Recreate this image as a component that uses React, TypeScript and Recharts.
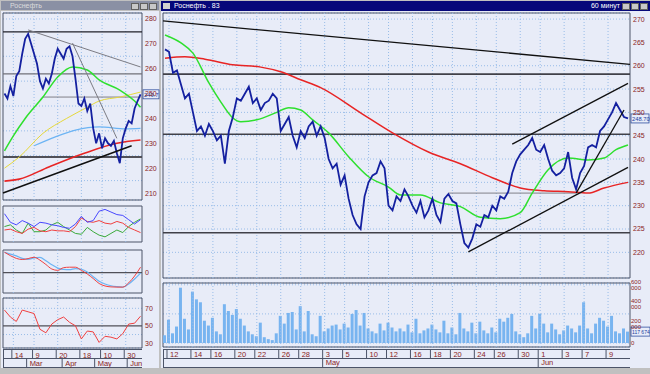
import React from 'react';
import { Bar, CartesianGrid, ComposedChart, Line, ReferenceArea, ReferenceLine, XAxis, YAxis } from 'recharts';

const FONT = '"Liberation Sans", Arial, sans-serif';
const BG = '#e8ecf8';
const FRAME = '#c0c0c0';
const GRID = '#98bce8';
const BORDER = '#4c5468';
const AXIS_TEXT = '#8a2424';
const PRICE_BLUE = '#1420a0';

// ---- main window: 60-minute bars, Apr 12 .. Jun 9 ----
const mainClose = [
    263.5, 263, 258.5, 259, 256, 253, 254, 250, 246, 247,
    245, 247.5, 246, 244, 245, 239, 246, 249, 253, 252.5,
    254, 255.5, 252, 253, 250.5, 252, 252.5, 254, 253, 246,
    247.5, 249, 245, 242.5, 246, 244.5, 247, 248, 245, 247,
    244.5, 240, 238, 239, 234.5, 236.5, 231.5, 228, 226, 225,
    232, 235, 236.5, 237, 239.5, 238, 230, 229, 232, 231,
    233.5, 232, 230, 228.5, 231, 227.5, 229, 231.5, 228, 226.5,
    231.5, 232.5, 231, 230.5, 226, 222, 221, 223, 226, 225.5,
    228, 227.5, 230, 229, 232, 231.5, 233, 237, 239.5, 241,
    242, 243, 244.5, 242, 241.5, 243, 240, 237.5, 236.5, 237,
    238, 241.5, 236, 233.5, 237, 238.5, 242.5, 243, 242.5, 246,
    247, 248.5, 250, 252, 250.5, 249, 248.7,
];
// thousands of shares
const mainVolume = [
    80, 240, 100, 170, 570, 250, 140, 530, 450, 420,
    230, 180, 260, 120, 90, 400, 330, 290, 350, 250,
    180, 120, 90, 70, 210, 60, 40, 30, 100, 280,
    200, 310, 320, 140, 380, 120, 330, 90, 70, 280,
    120, 150, 180, 190, 140, 200, 160, 300, 340, 180,
    310, 150, 120, 100, 200, 130, 210, 160, 120, 150,
    120, 190, 110, 250, 100, 130, 150, 190, 140, 110,
    230, 100, 160, 90, 310, 150, 120, 210, 100, 220,
    130, 100, 160, 110, 250, 220, 260, 300, 120, 90,
    60, 100, 280, 150, 300, 200, 110, 200, 140, 90,
    130, 180, 150, 110, 180, 420, 150, 100, 200, 260,
    230, 170, 280, 120, 100, 150, 117.674,
];
const mainGreenIdx = [0, 4, 7, 11, 14, 17, 19, 23, 28, 31, 34, 37, 41, 46, 51, 56, 59, 64, 69, 74, 79, 84, 89, 92, 96, 101, 106, 110, 113, 116];
const mainGreenVal = [266.6, 264.9, 262.7, 256.3, 252.2, 248.8, 248, 248.4, 250, 251, 250.5, 248.4, 245.6, 240.5, 236.2, 234, 232.3, 232.3, 230.6, 229.8, 227.5, 227.2, 228.5, 232.7, 237.7, 240.2, 239.8, 240.2, 242, 243];
const mainRedIdx = [0, 5, 10, 17, 24, 29, 34, 39, 49, 57, 66, 74, 82, 89, 95, 101, 106, 110, 116];
const mainRedVal = [261.6, 261.9, 261.4, 260.2, 259.7, 258.7, 257, 255.3, 249.9, 245.6, 241.5, 239, 236, 233.8, 233.2, 233, 232.7, 233.8, 235];
const mainTrends = [
    {x1: -0.5, y1: 269.6, x2: 116.5, y2: 260.3},
    {x1: 76, y1: 220.1, x2: 116, y2: 238.2},
    {x1: 87, y1: 243.2, x2: 116, y2: 256.2},
    {x1: 103, y1: 232.7, x2: 115, y2: 250.5},
];
const mainLevels = [258.2, 245.3, 224.2];
const mainThinLevel = {x1: 71, x2: 103, y: 232.7};
const mainPriceTicks = [220, 225, 230, 235, 240, 245, 250, 255, 260, 265, 270];
const mainVolumeTicks = [0, 100, 200, 300, 400, 500, 600];
const mainDayIdx = [1, 7, 12, 18, 23, 29, 34, 40, 45, 51, 56, 62, 67, 72, 78, 83, 89, 94, 100, 105, 111];
const mainDayLabels = ['12', '14', '16', '20', '22', '26', '28', '3', '5', '10', '12', '16', '18', '20', '24', '26', '30', '1', '3', '7', '9'];
const mainMonthIdx = [40, 94];
const mainMonthLabels = ['May', 'Jun'];

// ---- left window: daily bars, Feb .. Jun ----
const leftClose = [
    250, 248, 253, 249, 257, 259, 266, 272, 274, 270,
    266, 262, 255, 252, 256, 254, 258, 264, 268, 266,
    264, 268, 269, 265, 256, 246, 245, 248, 243, 246,
    236, 230, 234, 228, 232, 230, 229, 231, 226, 222,
    232, 236, 239, 238, 244, 247, 249.7,
];
const leftGreenIdx = [0, 3, 7, 13, 18, 23, 28, 32, 39, 44, 46];
const leftGreenVal = [227, 233, 240, 248.6, 256.7, 260.7, 259.5, 255.5, 251.4, 247, 244.5];
const leftYellowIdx = [0, 5, 13, 21, 28, 32, 39, 46];
const leftYellowVal = [220, 224.5, 234, 240, 244.5, 247, 248.6, 250.6];
const leftSkyIdx = [10, 17, 24, 32, 41, 46];
const leftSkyVal = [229, 232.5, 235.3, 236.6, 235.8, 236];
const leftRedIdx = [0, 5, 15, 27, 38, 46];
const leftRedVal = [214.8, 215.6, 220.5, 226, 230, 231.3];
const leftBlackTrend = {x1: -0.5, y1: 210, x2: 43, y2: 229};
const leftGrayTrends = [
    {x1: 8, y1: 275.6, x2: 46, y2: 260.7},
    {x1: 23, y1: 270.3, x2: 38, y2: 232},
];
const leftGrayPartial = {x1: 13, x2: 46, y: 248.6};
const leftPriceTicks = [210, 215, 220, 225, 230, 235, 240, 245, 250, 255, 260, 265, 270, 275, 280];

// indicators, one value every second day
const indIdx = [0, 2, 4, 6, 8, 10, 12, 14, 16, 18, 20, 22, 24, 26, 28, 30, 32, 34, 36, 38, 40, 42, 44, 46];
const dmiBlue = [43, 33, 30, 35, 32, 28, 33, 32, 30, 29, 27, 26, 31, 40, 33, 35, 46, 48, 45, 42, 41, 36, 31, 36];
const dmiRed = [24, 25, 22, 20, 25, 27, 23, 22, 24, 23, 23, 22, 28, 38, 34, 33, 35, 32, 31, 34, 32, 27, 24, 21];
const dmiGreen = [28, 30, 24, 20, 32, 22, 22, 24, 30, 33, 28, 24, 20, 19, 27, 22, 18, 16, 20, 24, 21, 28, 33, 37];
const macdBlue = [9.0, 8.2, 7.4, 6.3, 5.9, 6.5, 6.7, 5.2, 3.5, 2.0, 1.4, 1.3, 1.8, 1.5, 0.3, -1.8, -3.8, -5.0, -5.8, -6.2, -6.4, -5.0, -2.8, -0.2];
const macdRed = [9.0, 7.5, 6.3, 5.8, 6.2, 6.8, 5.5, 3.6, 1.6, 1.0, 2.2, 2.4, 2.4, 1.0, -0.6, -2.6, -4.8, -5.9, -6.3, -6.4, -6.4, -4.5, -1.5, 2.4];
const rsiRed = [68, 60, 55, 68, 66, 64, 46, 42, 52, 57, 60, 54, 50, 35, 44, 43, 31, 38, 37, 35, 41, 52, 53, 61];
const leftDayIdx = [3, 10, 18, 26, 33, 41];
const leftDayLabels = ['14', '9', '20', '18', '10', '30'];
const leftMonthIdx = [8, 20, 31, 42];
const leftMonthLabels = ['Mar', 'Apr', 'May', 'Jun'];

const toRows = (idx: number[], vals: number[]) => idx.map((i, k) => ({i, v: vals[k]}));

const mainRows = mainClose.map((c, i) => ({i, c, vol: mainVolume[i]}));
const leftRows = leftClose.map((c, i) => ({i, c}));
const indRows = indIdx.map((i, k) => ({
    i,
    dBlue: dmiBlue[k], dRed: dmiRed[k], dGreen: dmiGreen[k],
    mBlue: macdBlue[k], mRed: macdRed[k],
    rsi: rsiRed[k],
}));

const MAIN_X: [number, number] = [-0.5, mainClose.length - 0.5];
const LEFT_X: [number, number] = [-0.5, leftClose.length - 0.5];

const tickStyle = {fill: AXIS_TEXT, fontSize: 7, fontFamily: FONT};
const gridProps = {stroke: GRID, strokeDasharray: '1 2', vertical: false};
const yAxisBase = {orientation: 'right' as const, axisLine: false, tickLine: false, tickSize: 0, tickMargin: 3, tick: tickStyle};

const makeDateTick = (dayIdx: number[], dayLabels: string[], monthIdx: number[], monthLabels: string[], half: number) =>
    (props: any) => {
        const {x, y, payload} = props;
        const d = dayIdx.indexOf(payload.value);
        const m = monthIdx.indexOf(payload.value);
        const sx = x - half;
        return (
            <g>
                {d >= 0 && (
                    <g>
                        <line x1={sx} x2={sx} y1={y + 2} y2={y + 11} stroke={BORDER} />
                        <text x={sx + 3} y={y + 10} fontSize={7.5} fill={AXIS_TEXT} fontFamily={FONT}>{dayLabels[d]}</text>
                    </g>
                )}
                {m >= 0 && (
                    <g>
                        <line x1={sx} x2={sx} y1={y + 11} y2={y + 20} stroke={BORDER} />
                        <text x={sx + 3} y={y + 18} fontSize={7.5} fill={AXIS_TEXT} fontFamily={FONT}>{monthLabels[m]}</text>
                    </g>
                )}
            </g>
        );
    };

const PriceTag = (props: any) => {
    const {viewBox, text, w, size} = props;
    const x = viewBox.x + viewBox.width + 1;
    const y = viewBox.y;
    return (
        <g>
            <rect x={x} y={y - 4.5} width={w} height={9} fill={BG} stroke={'#3050a0'} strokeWidth={0.8} />
            <text x={x + 1} y={y + 2.5} fontSize={size ?? 5.8} fill={'#2040a0'} fontFamily={FONT}>{text}</text>
        </g>
    );
};

const vGrid = (idx: number[]) => idx.map(i => (
    <ReferenceLine key={'vg' + i} x={i} stroke={GRID} strokeDasharray={'1 2'} />
));

const MainPrice = () => (
    <ComposedChart width={490} height={270} data={mainRows} margin={{top: 1, right: 0, bottom: 4, left: 3}}>
        <CartesianGrid {...gridProps} />
        <XAxis dataKey={'i'} type={'number'} domain={MAIN_X} hide />
        <YAxis {...yAxisBase} width={20} domain={[214.5, 271.3]} ticks={mainPriceTicks} />
        {vGrid(mainDayIdx)}
        <ReferenceArea x1={MAIN_X[0]} x2={MAIN_X[1]} y1={214.5} y2={271.3} fill={'none'} stroke={BORDER} />
        {mainLevels.map(v => (
            <ReferenceLine key={'lv' + v} y={v} stroke={'#404048'} strokeWidth={1.6} />
        ))}
        <ReferenceLine segment={[{x: mainThinLevel.x1, y: mainThinLevel.y}, {x: mainThinLevel.x2, y: mainThinLevel.y}]}
                       stroke={'#808088'} strokeWidth={1} />
        <Line data={toRows(mainRedIdx, mainRedVal)} dataKey={'v'} type={'monotone'} stroke={'#e82424'}
              strokeWidth={1.5} dot={false} isAnimationActive={false} />
        <Line data={toRows(mainGreenIdx, mainGreenVal)} dataKey={'v'} type={'monotone'} stroke={'#2ee02e'}
              strokeWidth={1.5} dot={false} isAnimationActive={false} />
        <Line dataKey={'c'} type={'linear'} stroke={PRICE_BLUE} strokeWidth={1.8} dot={false} isAnimationActive={false} />
        {mainTrends.map((t, k) => (
            <ReferenceLine key={'tr' + k} segment={[{x: t.x1, y: t.y1}, {x: t.x2, y: t.y2}]} stroke={'#101010'} strokeWidth={1.3} />
        ))}
        <ReferenceLine y={mainClose[mainClose.length - 1]} stroke={'none'} label={<PriceTag text={'248.70'} w={18} />} />
    </ComposedChart>
);

const MainVolume = () => (
    <ComposedChart width={490} height={88} data={mainRows} margin={{top: 3, right: 0, bottom: 0, left: 3}}>
        <CartesianGrid {...gridProps} />
        <XAxis dataKey={'i'} type={'number'} domain={MAIN_X} height={21} axisLine={false} tickLine={false}
               tickSize={0} tickMargin={0} interval={0}
               ticks={[...mainDayIdx, ...mainMonthIdx.filter(m => !mainDayIdx.includes(m))]}
               tick={makeDateTick(mainDayIdx, mainDayLabels, mainMonthIdx, mainMonthLabels, 2)} />
        <YAxis {...yAxisBase} width={20} domain={[-41, 618.6]} ticks={mainVolumeTicks}
               tickMargin={1} tick={{...tickStyle, fontSize: 6}}
               tickFormatter={(v: number) => (v === 0 ? '0' : `${v} 000`)} />
        {vGrid(mainDayIdx)}
        <ReferenceArea x1={MAIN_X[0]} x2={MAIN_X[1]} y1={-41} y2={618.6} fill={'none'} stroke={BORDER} />
        <Bar dataKey={'vol'} fill={'#78b4f0'} barSize={3} isAnimationActive={false} />
        <ReferenceLine y={mainVolume[mainVolume.length - 1]} stroke={'none'} label={<PriceTag text={'117 674'} w={19} size={5} />} />
    </ComposedChart>
);

const LeftPrice = () => (
    <ComposedChart width={160} height={192} data={leftRows} margin={{top: 1, right: 0, bottom: 4, left: 3}}>
        <CartesianGrid {...gridProps} />
        <XAxis dataKey={'i'} type={'number'} domain={LEFT_X} hide />
        <YAxis {...yAxisBase} width={18} domain={[207.2, 282.4]} ticks={leftPriceTicks} />
        {vGrid(leftDayIdx)}
        <ReferenceArea x1={LEFT_X[0]} x2={LEFT_X[1]} y1={207.2} y2={282.4} fill={'none'} stroke={BORDER} />
        <ReferenceLine y={274.8} stroke={'#202028'} strokeWidth={1.4} />
        <ReferenceLine y={257.9} stroke={'#707078'} strokeWidth={1.2} />
        <ReferenceLine y={224.5} stroke={'#505058'} strokeWidth={1.8} />
        <ReferenceLine segment={[{x: leftGrayPartial.x1, y: leftGrayPartial.y}, {x: leftGrayPartial.x2, y: leftGrayPartial.y}]}
                       stroke={'#808088'} strokeWidth={1} />
        <Line data={toRows(leftYellowIdx, leftYellowVal)} dataKey={'v'} type={'monotone'} stroke={'#e6d83a'}
              strokeWidth={1} dot={false} isAnimationActive={false} />
        <Line data={toRows(leftSkyIdx, leftSkyVal)} dataKey={'v'} type={'monotone'} stroke={'#6cb4f4'}
              strokeWidth={1.2} dot={false} isAnimationActive={false} />
        <Line data={toRows(leftRedIdx, leftRedVal)} dataKey={'v'} type={'monotone'} stroke={'#e82424'}
              strokeWidth={1.6} dot={false} isAnimationActive={false} />
        <Line data={toRows(leftGreenIdx, leftGreenVal)} dataKey={'v'} type={'monotone'} stroke={'#2ee02e'}
              strokeWidth={1.5} dot={false} isAnimationActive={false} />
        <Line dataKey={'c'} type={'linear'} stroke={PRICE_BLUE} strokeWidth={1.8} dot={false} isAnimationActive={false} />
        {leftGrayTrends.map((t, k) => (
            <ReferenceLine key={'lg' + k} segment={[{x: t.x1, y: t.y1}, {x: t.x2, y: t.y2}]} stroke={'#7c7c84'} strokeWidth={1} />
        ))}
        <ReferenceLine segment={[{x: leftBlackTrend.x1, y: leftBlackTrend.y1}, {x: leftBlackTrend.x2, y: leftBlackTrend.y2}]}
                       stroke={'#101010'} strokeWidth={1.5} />
        <ReferenceLine y={leftClose[leftClose.length - 1]} stroke={'none'} label={<PriceTag text={'249.7'} w={16} />} />
    </ComposedChart>
);

const LeftDmi = () => (
    <ComposedChart width={160} height={40} data={indRows} margin={{top: 2, right: 0, bottom: 2, left: 3}}>
        <XAxis dataKey={'i'} type={'number'} domain={LEFT_X} hide />
        <YAxis {...yAxisBase} width={18} domain={[10, 52]} ticks={[50]} />
        {vGrid(leftDayIdx)}
        <ReferenceArea x1={LEFT_X[0]} x2={LEFT_X[1]} y1={10} y2={52} fill={'none'} stroke={BORDER} />
        <Line dataKey={'dGreen'} stroke={'#3aaa3a'} strokeWidth={1} dot={false} isAnimationActive={false} />
        <Line dataKey={'dRed'} stroke={'#f04040'} strokeWidth={1} dot={false} isAnimationActive={false} />
        <Line dataKey={'dBlue'} stroke={'#4848ff'} strokeWidth={1} dot={false} isAnimationActive={false} />
    </ComposedChart>
);

const LeftMacd = () => (
    <ComposedChart width={160} height={50} data={indRows} margin={{top: 4, right: 0, bottom: 3, left: 3}}>
        <XAxis dataKey={'i'} type={'number'} domain={LEFT_X} hide />
        <YAxis {...yAxisBase} width={18} domain={[-9, 10]} ticks={[0]} />
        {vGrid(leftDayIdx)}
        <ReferenceArea x1={LEFT_X[0]} x2={LEFT_X[1]} y1={-9} y2={10} fill={'none'} stroke={BORDER} />
        <ReferenceLine y={0} stroke={'#505058'} strokeWidth={1.2} />
        <Line dataKey={'mBlue'} type={'monotone'} stroke={'#6cb4f4'} strokeWidth={1.2} dot={false} isAnimationActive={false} />
        <Line dataKey={'mRed'} type={'monotone'} stroke={'#f04040'} strokeWidth={1} dot={false} isAnimationActive={false} />
    </ComposedChart>
);

const LeftRsi = () => (
    <ComposedChart width={160} height={72} data={indRows} margin={{top: 2, right: 0, bottom: 0, left: 3}}>
        <CartesianGrid {...gridProps} />
        <XAxis dataKey={'i'} type={'number'} domain={LEFT_X} height={20} axisLine={false} tickLine={false}
               tickSize={0} tickMargin={0} interval={0}
               ticks={[...leftDayIdx, ...leftMonthIdx]}
               tick={makeDateTick(leftDayIdx, leftDayLabels, leftMonthIdx, leftMonthLabels, 1.5)} />
        <YAxis {...yAxisBase} width={18} domain={[24.6, 81.8]} ticks={[30, 40, 50, 60, 70]} />
        {vGrid(leftDayIdx)}
        <ReferenceArea x1={LEFT_X[0]} x2={LEFT_X[1]} y1={24.6} y2={81.8} fill={'none'} stroke={BORDER} />
        <ReferenceLine y={50} stroke={'#505058'} strokeWidth={1.2} />
        <Line dataKey={'rsi'} stroke={'#f04040'} strokeWidth={1} dot={false} isAnimationActive={false} />
    </ComposedChart>
);

const abs = (left: number, top: number, width: number, height: number, extra: React.CSSProperties = {}): React.CSSProperties => ({
    position: 'absolute', left, top, width, height, ...extra,
});

const TitleButtons = ({right}: {right: number}) => (
    <>
        {[0, 1, 2].map(k => (
            <div key={k} style={abs(right - 27 + k * 9, 3, 8, 7, {background: '#c8c8c8', border: '1px solid #606060', boxSizing: 'border-box'})} />
        ))}
    </>
);

const DateStrip = ({left, width}: {left: number; width: number}) => (
    <>
        <div style={abs(left, 349, width, 19, {borderTop: `1px solid ${BORDER}`, borderBottom: `1px solid ${BORDER}`, boxSizing: 'border-box'})} />
        <div style={abs(left, 358, width, 1, {background: BORDER})} />
        <div style={abs(left, 349, 1, 19, {background: BORDER})} />
    </>
);

export default function App() {
    return (
        <div style={abs(0, 0, 650, 374, {background: FRAME, overflow: 'hidden', fontFamily: FONT})}>
            {/* left window */}
            <div style={abs(1, 11, 158, 357, {background: BG})} />
            <div style={abs(1, 1, 158, 9, {background: '#8a90a4'})} />
            <div style={abs(10, 1, 80, 9, {color: '#dcdcdc', fontSize: 7, lineHeight: '9px'})}>Роснефть</div>
            <TitleButtons right={158} />

            {/* main window */}
            <div style={abs(161, 11, 489, 357, {background: BG})} />
            <div style={abs(161, 1, 489, 10, {background: '#06087a'})} />
            <div style={abs(163, 3, 7, 6, {background: '#d0d0d0'})} />
            <div style={abs(174, 1, 120, 10, {color: '#ffffff', fontSize: 7, lineHeight: '10px'})}>Роснефть . 83</div>
            <div style={abs(560, 1, 60, 10, {color: '#ffffff', fontSize: 7, lineHeight: '10px', textAlign: 'right'})}>60 минут</div>
            <TitleButtons right={649} />

            <DateStrip left={3} width={139} />
            <DateStrip left={163} width={467} />

            <div style={abs(0, 12, 160, 192)}><LeftPrice /></div>
            <div style={abs(0, 204, 160, 40)}><LeftDmi /></div>
            <div style={abs(0, 246, 160, 50)}><LeftMacd /></div>
            <div style={abs(0, 296, 160, 72)}><LeftRsi /></div>

            <div style={abs(160, 12, 490, 270)}><MainPrice /></div>
            <div style={abs(160, 280, 490, 88)}><MainVolume /></div>
        </div>
    );
}
